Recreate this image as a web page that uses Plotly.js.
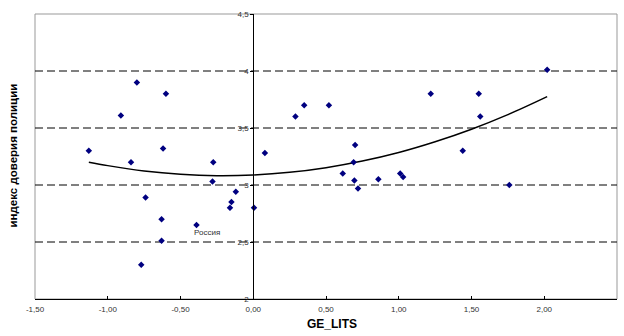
<!DOCTYPE html>
<html>
<head>
<meta charset="utf-8">
<script src="https://cdn.plot.ly/plotly-3.0.1.min.js"></script>
<style>html,body{margin:0;padding:0;background:#fff;}#chart{width:624px;height:336px;}</style>
</head>
<body>
<div id="chart"></div>
<script>
// Scatter data: GE_LITS vs индекс доверия полиции
const geLits = [-1.13, -0.91, -0.80, -0.60, -0.84, -0.62, -0.275, 0.08, 0.29, 0.35, 0.52, 0.70, 0.69, 1.22, 1.55, 1.56, 1.44, 2.02,
                -0.28, -0.74, -0.12, -0.15, -0.16, 0.005, -0.63, -0.39, -0.63, -0.77, 0.615, 0.695, 0.72, 0.86, 1.01, 1.03, 1.76];
const trustIdx = [3.30, 3.61, 3.90, 3.80, 3.20, 3.32, 3.20, 3.28, 3.60, 3.70, 3.70, 3.35, 3.20, 3.80, 3.80, 3.60, 3.30, 4.01,
                  3.03, 2.89, 2.94, 2.85, 2.80, 2.80, 2.70, 2.65, 2.51, 2.30, 3.10, 3.04, 2.97, 3.05, 3.10, 3.07, 3.00];
// Polynomial trend line
const trendX = [-1.13, -1.0, -0.75, -0.5, -0.25, 0, 0.25, 0.5, 0.75, 1.0, 1.25, 1.5, 1.75, 2.02];
const trendY = [3.20, 3.17, 3.123, 3.094, 3.082, 3.088, 3.111, 3.152, 3.21, 3.285, 3.379, 3.489, 3.617, 3.775];
// Labelled point
const labelText = 'Россия';
const labelX = -0.39, labelY = 2.65;
// Axes
const xTicks = [-1.5, -1.0, -0.5, 0, 0.5, 1.0, 1.5, 2.0, 2.5];
const yTicks = [2, 2.5, 3, 3.5, 4, 4.5];
const gridLevels = [2.5, 3, 3.5, 4];
const xTitle = 'GE_LITS';
const yTitle = 'индекс доверия полиции';

const xTickText = xTicks.map(v => v.toFixed(2).replace('.', ','));
const yTickText = yTicks.map(v => String(v).replace('.', ','));

const tickFont = {family: 'Liberation Sans, Arial, sans-serif', size: 8, color: '#333'};

const traces = [
  {x: trendX, y: trendY, mode: 'lines', type: 'scatter', line: {color: '#000', width: 1.5, shape: 'spline'}, hoverinfo: 'skip'},
  {x: geLits, y: trustIdx, mode: 'markers', type: 'scatter', marker: {symbol: 'diamond', size: 5, color: '#000080'}}
];

const shapes = [
  {type: 'rect', xref: 'paper', yref: 'paper', x0: 0, x1: 1, y0: 0, y1: 1, line: {color: '#999', width: 1}, layer: 'below'}
].concat(gridLevels.map(g => ({
  type: 'line', xref: 'paper', yref: 'y', x0: 0, x1: 1, y0: g, y1: g,
  line: {color: '#000', width: 1, dash: '8px,4px'}, layer: 'below'
})));

const layout = {
  width: 624, height: 336,
  margin: {l: 35, r: 7, t: 14, b: 37},
  paper_bgcolor: '#fff', plot_bgcolor: '#fff',
  showlegend: false,
  xaxis: {
    range: [-1.5, 2.5], tickvals: xTicks, ticktext: xTickText,
    showgrid: false, zeroline: false, showline: true, linecolor: '#000', linewidth: 1,
    ticks: 'inside', ticklen: 3, tickcolor: '#000', tickfont: tickFont, ticklabelstandoff: 2
  },
  yaxis: {
    range: [2, 4.5], tickvals: yTicks, ticktext: yTickText,
    anchor: 'free', position: 0.375, side: 'left',
    showgrid: false, zeroline: false, showline: true, linecolor: '#000', linewidth: 1,
    ticks: 'outside', ticklen: 3, tickcolor: '#000', tickfont: tickFont
  },
  shapes: shapes,
  annotations: [
    {text: labelText, x: labelX, y: labelY, xref: 'x', yref: 'y', showarrow: false, xshift: 10, yshift: -8,
     font: {family: 'Liberation Sans, Arial, sans-serif', size: 8, color: '#333'}},
    {text: '<b>' + xTitle + '</b>', x: 0.511, y: 0, xref: 'paper', yref: 'paper', showarrow: false,
     font: {family: 'Liberation Sans, Arial, sans-serif', size: 12, color: '#000'}, yanchor: 'middle'},
    {text: '<b>' + yTitle + '</b>', textangle: -90, x: 0, y: 0.5, xref: 'paper', yref: 'paper', showarrow: false,
     font: {family: 'Liberation Sans, Arial, sans-serif', size: 11.5, color: '#000'}, xanchor: 'center', yanchor: 'middle'}
  ]
};
// title placement in paper coords from pixel positions
layout.annotations[1].y = (336 - 37 - 324) / (336 - 37 - 14);
layout.annotations[2].x = (12.5 - 35) / (624 - 35 - 7);
layout.annotations[2].y = (336 - 37 - 156) / (336 - 37 - 14);

Plotly.newPlot('chart', traces, layout, {displayModeBar: false, staticPlot: true});
</script>
</body>
</html>
